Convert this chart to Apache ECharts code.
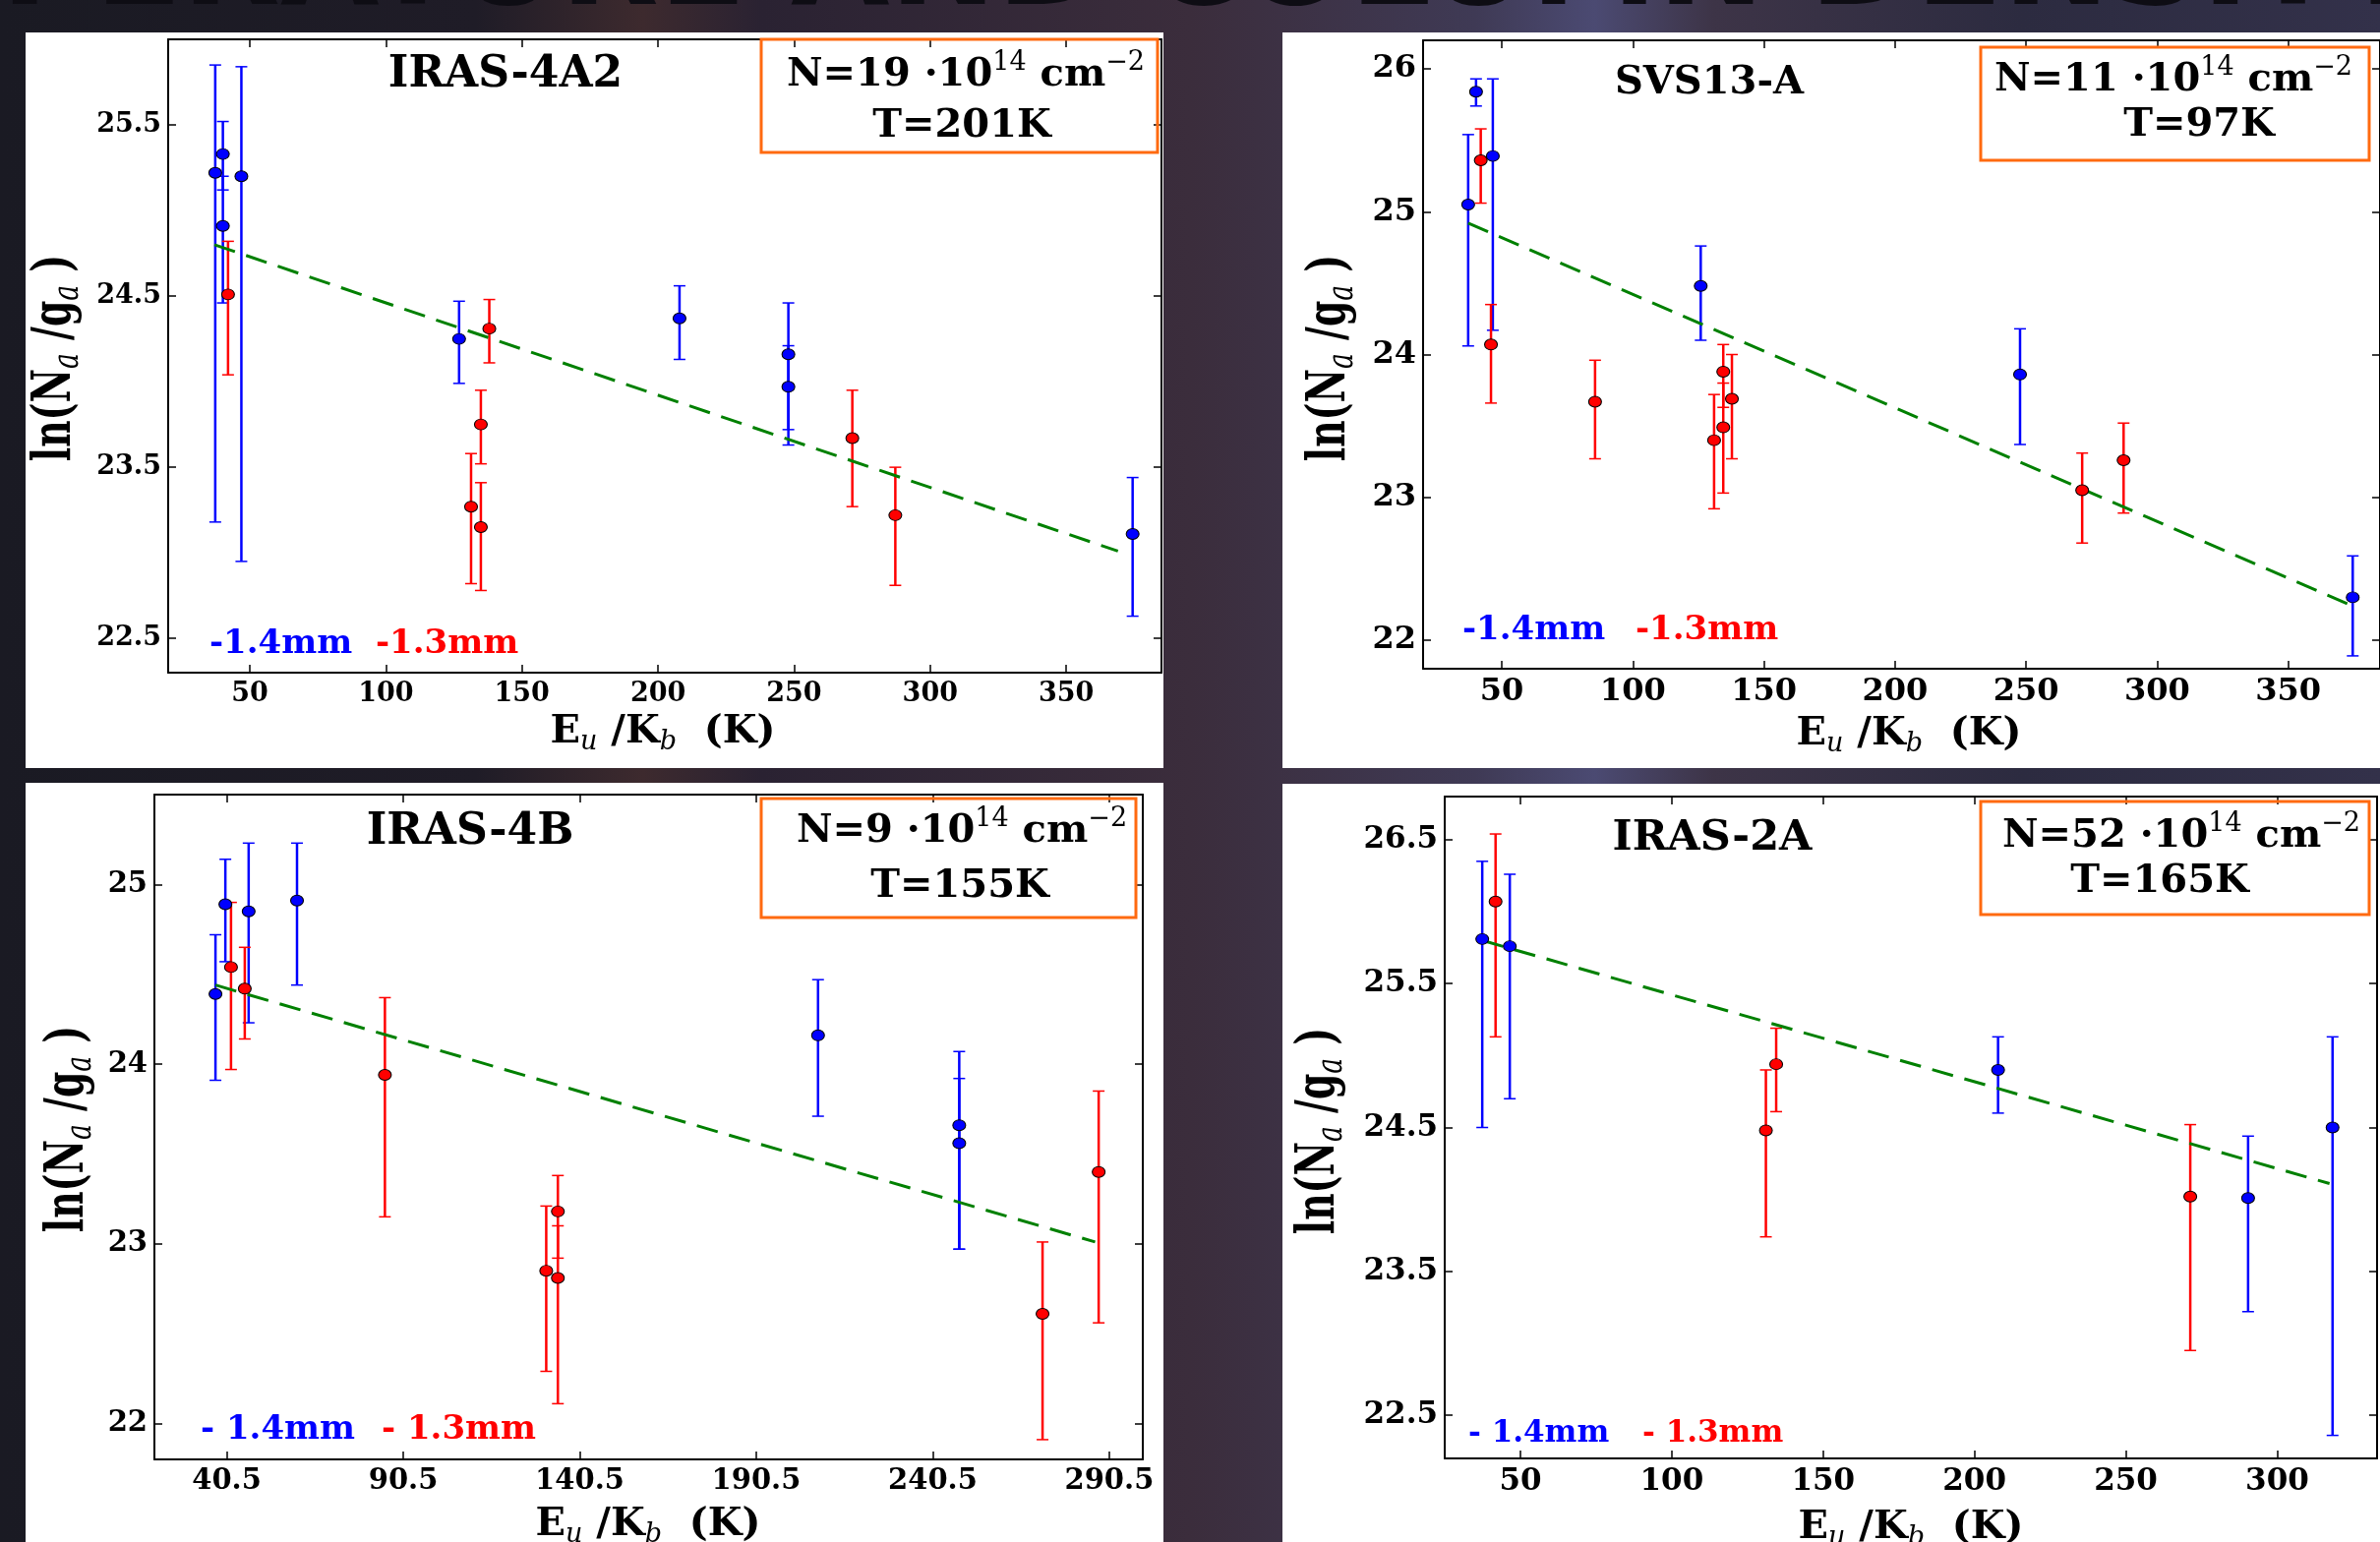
<!DOCTYPE html>
<html>
<head>
<meta charset="utf-8">
<script src="https://cdn.jsdelivr.net/npm/echarts@6/dist/echarts.min.js"></script>
<style>
html, body { margin: 0; padding: 0; background: #1c1b25; }
#main { width: 2420px; height: 1568px; }
</style>
</head>
<body>
<div id="main"></div>
<script>
// each point: [E_u/K_b, ln(N/g), lower end of error bar, upper end of error bar]
// IRAS-4A2
var a2Blue = [
  [37.3, 25.22, 23.18, 25.85], [40.1, 25.33, 25.12, 25.52], [40.1, 24.91, 24.46, 25.20],
  [46.9, 25.20, 22.95, 25.84], [126.9, 24.25, 23.99, 24.47], [207.9, 24.37, 24.13, 24.56],
  [247.9, 24.16, 23.72, 24.46], [247.9, 23.97, 23.63, 24.21], [374.4, 23.11, 22.63, 23.44]
];
var a2Red = [
  [42.0, 24.51, 24.04, 24.82], [131.3, 23.27, 22.82, 23.58], [134.9, 23.75, 23.52, 23.95],
  [134.9, 23.15, 22.78, 23.41], [138.0, 24.31, 24.11, 24.48], [271.4, 23.67, 23.27, 23.95],
  [287.2, 23.22, 22.81, 23.50]
];
var a2Fit = [[37.0, 24.80], [369.0, 23.01]];
var a2XTicks = [50, 100, 150, 200, 250, 300, 350];
var a2YTicks = [22.5, 23.5, 24.5, 25.5];

// SVS13-A
var svsBlue = [
  [37.2, 25.05, 24.06, 25.54], [40.2, 25.84, 25.74, 25.93], [46.6, 25.39, 24.17, 25.93],
  [125.9, 24.48, 24.10, 24.76], [247.7, 23.86, 23.37, 24.18], [374.6, 22.30, 21.89, 22.59]
];
var svsRed = [
  [42.0, 25.36, 25.06, 25.58], [45.9, 24.07, 23.66, 24.35], [85.6, 23.67, 23.27, 23.96],
  [131.0, 23.40, 22.92, 23.72], [134.5, 23.88, 23.63, 24.07], [134.5, 23.49, 23.03, 23.80],
  [137.8, 23.69, 23.27, 24.00], [271.4, 23.05, 22.68, 23.31], [287.2, 23.26, 22.89, 23.52]
];
var svsFit = [[37.2, 24.92], [373.2, 22.25]];
var svsXTicks = [50, 100, 150, 200, 250, 300, 350];
var svsYTicks = [22, 23, 24, 25, 26];

// IRAS-4B
var b4Blue = [
  [37.3, 24.39, 23.91, 24.72], [40.1, 24.89, 24.57, 25.14], [46.7, 24.85, 24.23, 25.23],
  [60.4, 24.91, 24.44, 25.23], [208.0, 24.16, 23.71, 24.47], [248.0, 23.66, 22.97, 24.07],
  [248.0, 23.56, 22.97, 23.92]
];
var b4Red = [
  [41.7, 24.54, 23.97, 24.90], [45.6, 24.42, 24.14, 24.65], [85.3, 23.94, 23.15, 24.37],
  [131.0, 22.85, 22.29, 23.21], [134.3, 23.18, 22.92, 23.38], [134.3, 22.81, 22.11, 23.10],
  [271.6, 22.61, 21.91, 23.01], [287.5, 23.40, 22.56, 23.85]
];
var b4Fit = [[37.3, 24.44], [286.5, 23.01]];
var b4XTicks = [40.5, 90.5, 140.5, 190.5, 240.5, 290.5];
var b4YTicks = [22, 23, 24, 25];

// IRAS-2A
var i2aBlue = [
  [37.4, 25.81, 24.50, 26.35], [46.5, 25.76, 24.70, 26.26], [207.8, 24.90, 24.60, 25.13],
  [290.4, 24.01, 23.22, 24.44], [318.3, 24.50, 22.36, 25.13]
];
var i2aRed = [
  [41.8, 26.07, 25.13, 26.54], [131.1, 24.48, 23.74, 24.90], [134.5, 24.94, 24.61, 25.19],
  [271.3, 24.02, 22.95, 24.52]
];
var i2aFit = [[37.4, 25.80], [317.3, 24.11]];
var i2aXTicks = [50, 100, 150, 200, 250, 300];
var i2aYTicks = [22.5, 23.5, 24.5, 25.5, 26.5];

var SERIF = 'DejaVu Serif';
var BLUE = '#0000ff', RED = '#ff0000', GREEN = '#008000', ORANGE = '#ff6a10';

var panels = [
  { title: 'IRAS-4A2', n: '19', t: '201K', blue: a2Blue, red: a2Red, fit: a2Fit,
    xTicks: a2XTicks, yTicks: a2YTicks, xMin: 20, xMax: 385, yMin: 22.3, yMax: 26.0,
    legB: '-1.4mm', legR: '-1.3mm',
    grid: { left: 171, top: 40, width: 1010, height: 644 }, sheet: [26, 33, 1157, 748], tickFont: 27,
    titlePos: [514, 77, 44], box: [774, 40, 403, 115], nPos: [982, 77], tPos: [978, 129],
    legPos: [213, 382, 655, 34], xNamePos: [674, 745], yNamePos: [57, 364] },
  { title: 'SVS13-A', n: '11', t: '97K', blue: svsBlue, red: svsRed, fit: svsFit,
    xTicks: svsXTicks, yTicks: svsYTicks, xMin: 20, xMax: 385, yMin: 21.8, yMax: 26.2,
    legB: '-1.4mm', legR: '-1.3mm',
    grid: { left: 1447, top: 41, width: 989, height: 639 }, sheet: [1304, 33, 1116, 748], tickFont: 32,
    titlePos: [1738, 85, 40], box: [2014, 48, 395, 115], nPos: [2210, 82], tPos: [2236, 128],
    legPos: [1487, 1663, 641, 34], xNamePos: [1941, 747], yNamePos: [1353, 364] },
  { title: 'IRAS-4B', n: '9', t: '155K', blue: b4Blue, red: b4Red, fit: b4Fit,
    xTicks: b4XTicks, yTicks: b4YTicks, xMin: 20, xMax: 300, yMin: 21.8, yMax: 25.5,
    legB: '- 1.4mm', legR: '- 1.3mm',
    grid: { left: 157, top: 808, width: 1005, height: 676 }, sheet: [26, 796, 1157, 772], tickFont: 29,
    titlePos: [478, 847, 44], box: [774, 812, 381, 121], nPos: [978, 846], tPos: [976, 902],
    legPos: [204, 388, 1454, 34], xNamePos: [659, 1551], yNamePos: [70, 1148] },
  { title: 'IRAS-2A', n: '52', t: '165K', blue: i2aBlue, red: i2aRed, fit: i2aFit,
    xTicks: i2aXTicks, yTicks: i2aYTicks, xMin: 25, xMax: 333, yMin: 22.2, yMax: 26.8,
    legB: '- 1.4mm', legR: '- 1.3mm',
    grid: { left: 1469, top: 810, width: 948, height: 673 }, sheet: [1304, 797, 1116, 771], tickFont: 31,
    titlePos: [1741, 853, 43], box: [2014, 815, 395, 115], nPos: [2218, 851], tPos: [2196, 897],
    legPos: [1493, 1670, 1458, 31], xNamePos: [1943, 1554], yNamePos: [1342, 1150] }
];

function errorBars(params, api) {
  var x = api.value(0);
  var lo = api.coord([x, api.value(1)]);
  var hi = api.coord([x, api.value(2)]);
  var c = api.visual('color');
  var w = 6;
  return {
    type: 'group',
    children: [
      { type: 'line', shape: { x1: lo[0], y1: lo[1], x2: hi[0], y2: hi[1] }, style: { stroke: c, lineWidth: 2.5 } },
      { type: 'line', shape: { x1: hi[0] - w, y1: hi[1], x2: hi[0] + w, y2: hi[1] }, style: { stroke: c, lineWidth: 1.5 } },
      { type: 'line', shape: { x1: lo[0] - w, y1: lo[1], x2: lo[0] + w, y2: lo[1] }, style: { stroke: c, lineWidth: 1.5 } }
    ]
  };
}

function makeAxis(p, i, dim, mirror) {
  var ticks = dim === 'x' ? p.xTicks : p.yTicks;
  var pos = dim === 'x' ? (mirror ? 'top' : 'bottom') : (mirror ? 'right' : 'left');
  return {
    type: 'value', gridIndex: i, position: pos,
    min: dim === 'x' ? p.xMin : p.yMin,
    max: dim === 'x' ? p.xMax : p.yMax,
    splitLine: { show: false },
    axisLine: { show: true, onZero: false, lineStyle: { color: '#000', width: 2 } },
    axisTick: { show: true, inside: true, length: 8, customValues: ticks, lineStyle: { color: '#000', width: 1.5 } },
    axisLabel: { show: !mirror, customValues: ticks, margin: dim === 'x' ? 8 : 7, color: '#000',
      fontFamily: SERIF, fontWeight: 'bold', fontSize: p.tickFont }
  };
}

var grids = [], xAxes = [], yAxes = [], series = [];
var graphics = [];

// background photo-like gradient and the heading cut by the top edge
graphics.push({
  type: 'rect', z: -100, shape: { x: 0, y: 0, width: 2420, height: 1568 },
  style: { fill: { type: 'linear', x: 0, y: 0, x2: 1, y2: 0, colorStops: [
    { offset: 0, color: '#1a1a23' }, { offset: 0.2, color: '#1f1c27' }, { offset: 0.27, color: '#3d2a2e' },
    { offset: 0.32, color: '#2a2232' }, { offset: 0.5, color: '#3b2d3c' }, { offset: 0.62, color: '#3f3a55' },
    { offset: 0.67, color: '#4b4a72' }, { offset: 0.72, color: '#3d3447' }, { offset: 0.85, color: '#2c2b40' },
    { offset: 1, color: '#33314a' } ] } }
});
graphics.push({
  type: 'text', z: -90, x: 2470, y: -30,
  style: { text: 'TEMPERATURE AND COLUMN DENSITY', fill: '#0e0d14', fontFamily: 'DejaVu Sans',
    fontWeight: 'bold', fontSize: 130, align: 'right', verticalAlign: 'middle' }
});

var boxRich = {
  m: { fontFamily: SERIF, fontWeight: 'bold', fontSize: 40, lineHeight: 54, fill: '#000' },
  s: { fontFamily: SERIF, fontSize: 27, lineHeight: 27, verticalAlign: 'top', fill: '#000' }
};
var labelRich = {
  m: { fontFamily: SERIF, fontWeight: 'bold', fontSize: 40, lineHeight: 46, fill: '#000' },
  b: { fontFamily: SERIF, fontStyle: 'italic', fontSize: 27, lineHeight: 27, verticalAlign: 'bottom', fill: '#000' }
};
// the y label is drawn tall and narrow, as in the stretched original figure
var yLabelRich = {
  m: { fontFamily: SERIF, fontWeight: 'bold', fontSize: 54, lineHeight: 62, fill: '#000' },
  b: { fontFamily: SERIF, fontStyle: 'italic', fontSize: 38, lineHeight: 38, verticalAlign: 'bottom', fill: '#000' }
};

panels.forEach(function (p, i) {
  grids.push(p.grid);
  xAxes.push(makeAxis(p, i, 'x', false), makeAxis(p, i, 'x', true));
  yAxes.push(makeAxis(p, i, 'y', false), makeAxis(p, i, 'y', true));
  var ax = 2 * i;

  series.push({ type: 'custom', xAxisIndex: ax, yAxisIndex: ax, renderItem: errorBars, z: 2,
    itemStyle: { color: BLUE }, encode: { x: 0, y: [1, 2] },
    data: p.blue.map(function (d) { return [d[0], d[2], d[3]]; }) });
  series.push({ type: 'custom', xAxisIndex: ax, yAxisIndex: ax, renderItem: errorBars, z: 2,
    itemStyle: { color: RED }, encode: { x: 0, y: [1, 2] },
    data: p.red.map(function (d) { return [d[0], d[2], d[3]]; }) });
  series.push({ type: 'line', xAxisIndex: ax, yAxisIndex: ax, z: 3, showSymbol: false, symbol: 'none',
    lineStyle: { color: GREEN, width: 3, type: [22, 12] }, data: p.fit });
  series.push({ type: 'scatter', xAxisIndex: ax, yAxisIndex: ax, z: 4, symbol: 'circle', symbolSize: [13, 11],
    itemStyle: { color: BLUE, borderColor: '#000', borderWidth: 1, opacity: 1 },
    data: p.blue.map(function (d) { return [d[0], d[1]]; }) });
  series.push({ type: 'scatter', xAxisIndex: ax, yAxisIndex: ax, z: 4, symbol: 'circle', symbolSize: [13, 11],
    itemStyle: { color: RED, borderColor: '#000', borderWidth: 1, opacity: 1 },
    data: p.red.map(function (d) { return [d[0], d[1]]; }) });

  // white sheet behind each plot
  graphics.push({ type: 'rect', z: -50,
    shape: { x: p.sheet[0], y: p.sheet[1], width: p.sheet[2], height: p.sheet[3] },
    style: { fill: '#ffffff' } });
  graphics.push({ type: 'text', z: 50, x: p.titlePos[0], y: p.titlePos[1],
    style: { text: p.title, fill: '#000', fontFamily: SERIF, fontWeight: 'bold', fontSize: p.titlePos[2],
      align: 'center', verticalAlign: 'middle' } });
  graphics.push({ type: 'rect', z: 50,
    shape: { x: p.box[0], y: p.box[1], width: p.box[2], height: p.box[3] },
    style: { fill: 'rgba(255,255,255,0)', stroke: ORANGE, lineWidth: 3 } });
  graphics.push({ type: 'text', z: 51, x: p.nPos[0], y: p.nPos[1],
    style: { text: '{m|N=' + p.n + ' ·10}{s|14}{m| cm}{s|−2}', rich: boxRich,
      align: 'center', verticalAlign: 'middle' } });
  graphics.push({ type: 'text', z: 51, x: p.tPos[0], y: p.tPos[1],
    style: { text: 'T=' + p.t, fill: '#000', fontFamily: SERIF, fontWeight: 'bold', fontSize: 40,
      align: 'center', verticalAlign: 'middle' } });
  graphics.push({ type: 'text', z: 51, x: p.legPos[0], y: p.legPos[2],
    style: { text: p.legB, fill: BLUE, fontFamily: SERIF, fontWeight: 'bold', fontSize: p.legPos[3],
      align: 'left', verticalAlign: 'middle' } });
  graphics.push({ type: 'text', z: 51, x: p.legPos[1], y: p.legPos[2],
    style: { text: p.legR, fill: RED, fontFamily: SERIF, fontWeight: 'bold', fontSize: p.legPos[3],
      align: 'left', verticalAlign: 'middle' } });
  graphics.push({ type: 'text', z: 51, x: p.xNamePos[0], y: p.xNamePos[1],
    style: { text: '{m|E}{b|u}{m| /K}{b|b}{m|  (K)}', rich: labelRich, align: 'center', verticalAlign: 'middle' } });
  graphics.push({ type: 'text', z: 51, x: p.yNamePos[0], y: p.yNamePos[1], rotation: Math.PI / 2,
    scaleX: 0.7, scaleY: 1,
    style: { text: '{m|ln(N}{b|a}{m| /g}{b|a}{m| )}', rich: yLabelRich, align: 'center', verticalAlign: 'middle' } });
});

var chart = echarts.init(document.getElementById('main'));
chart.setOption({
  animation: false,
  backgroundColor: '#1c1b25',
  grid: grids,
  xAxis: xAxes,
  yAxis: yAxes,
  series: series,
  graphic: { elements: graphics }
});
</script>
</body>
</html>
